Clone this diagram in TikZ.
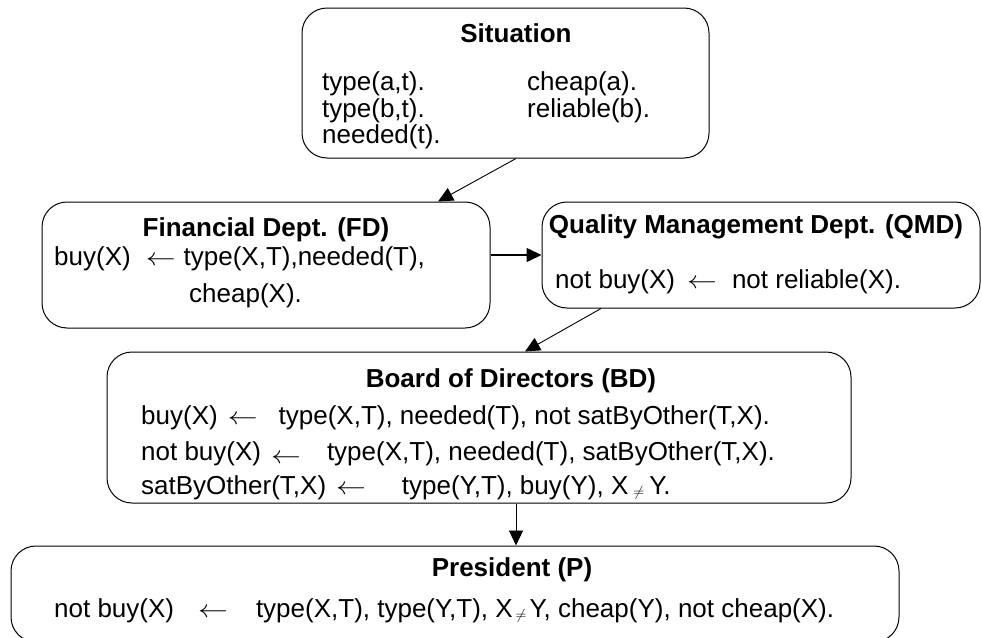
\documentclass[tikz,border=0pt]{standalone}
\usepackage{fontspec}
\setmainfont{Liberation Sans}
\usetikzlibrary{arrows.meta}
\newcommand\lar{\scalebox{1.2}[1]{$\leftarrow$}}
\newcommand\sneq{\raisebox{-2pt}{\fontsize{14}{14}\selectfont$\neq$}}
\begin{document}
\begin{tikzpicture}[x=1pt,y=-1pt,
  box/.style={draw=black, line width=1pt, rounded corners=25pt, inner sep=0pt, anchor=center},
  txt/.style={inner sep=0pt, anchor=base west, font=\fontsize{26}{28}\selectfont},
  ttl/.style={inner sep=0pt, anchor=base, font=\fontsize{26}{28}\selectfont\bfseries},
  arr/.style={-{Triangle[length=15pt,width=14pt]}, line width=0.9pt}]
\useasboundingbox (0,0) rectangle (982,637);
% boxes
\node[box, minimum width=407pt, minimum height=150pt] (sit) at (505.5,83) {};
\node[box, minimum width=448pt, minimum height=126pt] (fd) at (266,265) {};
\node[box, minimum width=438pt, minimum height=106pt] (qmd) at (761,255) {};
\node[box, minimum width=744pt, minimum height=151pt] (bd) at (479,427.5) {};
\node[box, minimum width=888pt, minimum height=96pt] (pres) at (455,594) {};
% Situation
\node[ttl] (sitT) at (516,42) {Situation};
\node[txt] (sit1) at (322,90) {type(a,t).};
\node[txt] (sit2) at (322,117) {type(b,t).};
\node[txt] (sit3) at (322,143) {needed(t).};
\node[txt] (sit4) at (527,90) {cheap(a).};
\node[txt] (sit5) at (527,117) {reliable(b).};
% FD
\node[ttl] (fdT) at (266,236) {Financial Dept. (FD)};
\node[txt] (fd1) at (54,265) {buy(X)\hspace{15pt}\lar\hspace{8pt}type(X,T),needed(T),};
\node[txt] (fd2) at (189,302) {cheap(X).};
% QMD
\node[ttl] (qmdT) at (756,233) {Quality Management Dept. (QMD)};
\node[txt] (qmd1) at (555,288) {not buy(X)\hspace{12pt}\lar\hspace{15pt}not reliable(X).};
% BD
\node[ttl] (bdT) at (511,387) {Board of Directors (BD)};
\node[txt] (bd1) at (141,424) {buy(X)\hspace{10pt}\lar\hspace{21pt}type(X,T), needed(T), not satByOther(T,X).};
\node[txt] (bd2) at (141,460) {not buy(X)\hspace{10pt}\raisebox{-3pt}{\lar}\hspace{26pt}type(X,T), needed(T), satByOther(T,X).};
\node[txt] (bd3) at (141,494) {satByOther(T,X)\hspace{10pt}\lar\hspace{36pt}type(Y,T), buy(Y), X\hspace{5pt}\sneq\hspace{5pt}Y.};
% President
\node[ttl] (presT) at (512,576) {President (P)};
\node[txt] (pres1) at (54,617) {not buy(X)\hspace{24pt}\lar\hspace{28pt}type(X,T), type(Y,T), X\hspace{3pt}\sneq\hspace{3pt}Y, cheap(Y), not cheap(X).};
% connectors
\draw[arr] ([xshift=10.5pt]sit.south) -- ([xshift=172pt]fd.north);
\draw[arr, line width=1.6pt] (fd.east |- qmd.west) -- (qmd.west);
\draw[arr] ([xshift=-160pt]qmd.south) -- ([xshift=46pt]bd.north);
\draw[arr] ([xshift=37pt]bd.south) -- ([xshift=61pt]pres.north);
\end{tikzpicture}
\end{document}
